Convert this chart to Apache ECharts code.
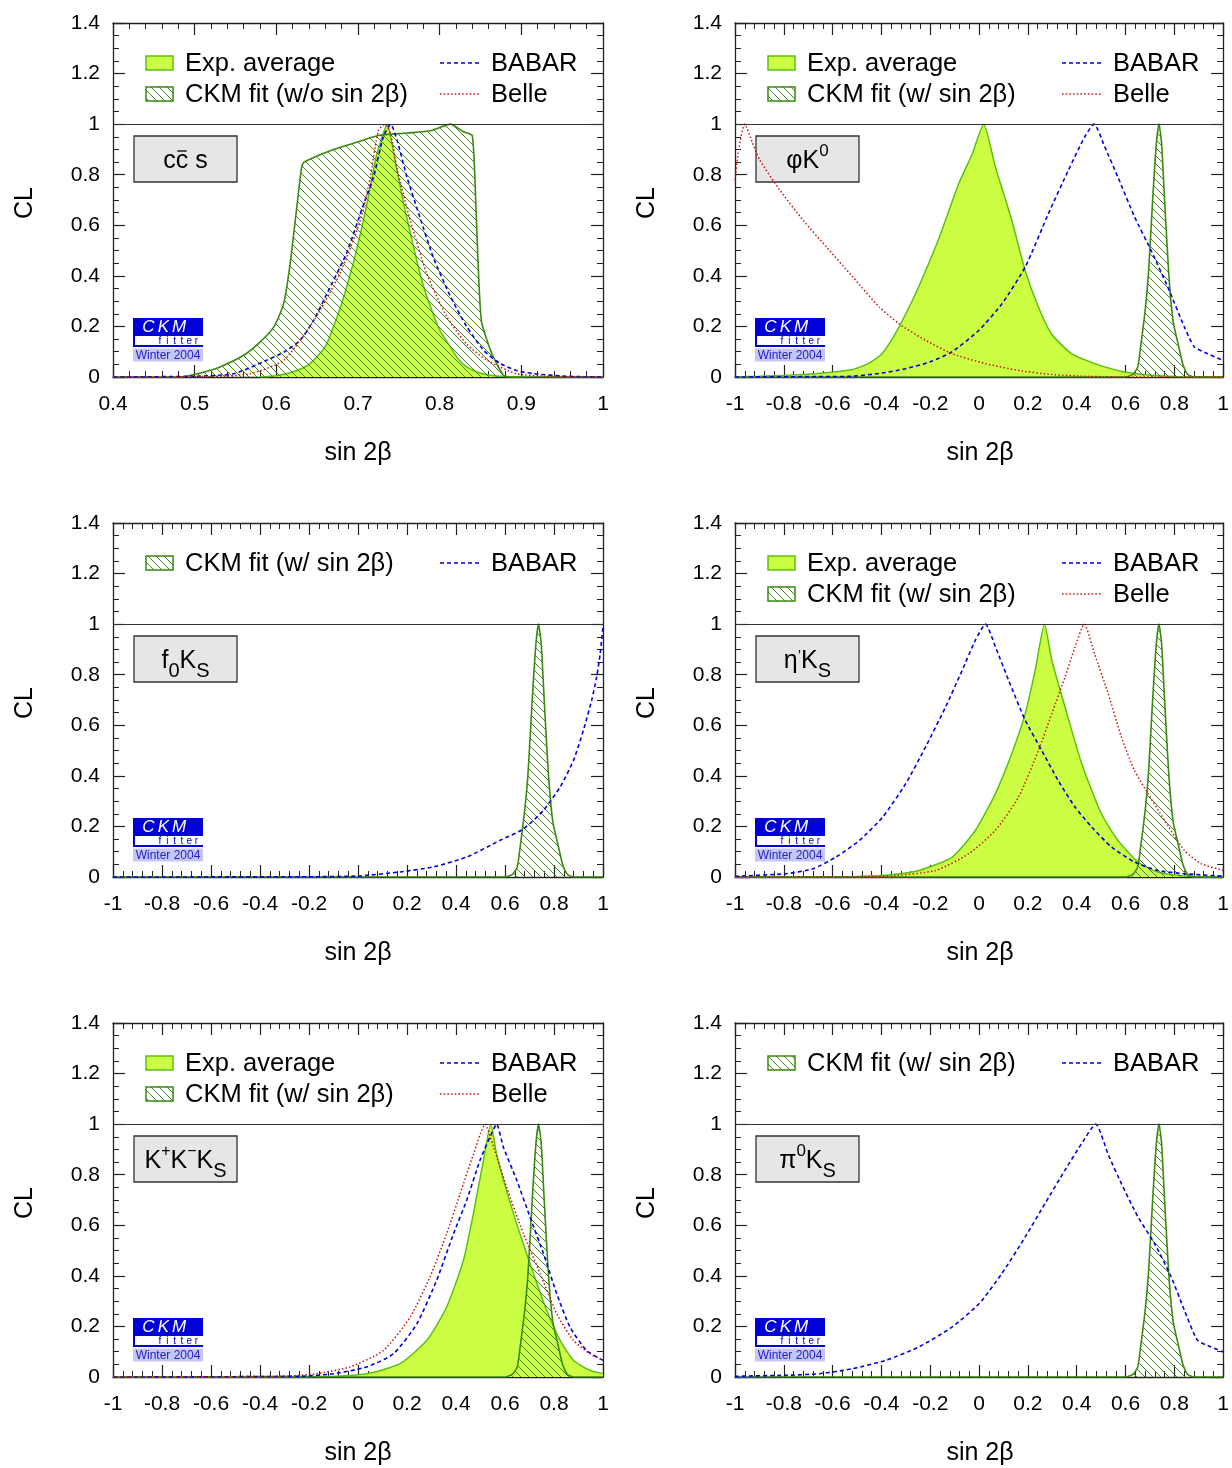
<!DOCTYPE html>
<html>
<head>
<meta charset="utf-8">
<script src="https://cdn.jsdelivr.net/npm/echarts@6/dist/echarts.min.js"></script>
<style>
html,body{margin:0;padding:0;background:#fff;}
#chart{width:1232px;height:1468px;}
</style>
</head>
<body>
<div id="chart"></div>
<script>
// ---------------- DATA ----------------
// x = sin 2beta, y = CL
const xTicksWide = [-1, -0.8, -0.6, -0.4, -0.2, 0, 0.2, 0.4, 0.6, 0.8, 1];
const xTicksCcs = [0.4, 0.5, 0.6, 0.7, 0.8, 0.9, 1];
const yTicks = [0, 0.2, 0.4, 0.6, 0.8, 1, 1.2, 1.4];

// Panel 1: c cbar s
const ccs_exp = [[0.58,0],[0.60,0.005],[0.62,0.02],[0.64,0.05],[0.66,0.12],[0.67,0.2],[0.68,0.29],[0.695,0.46],[0.711,0.685],[0.723,0.88],[0.736,1.0],[0.744,0.88],[0.756,0.685],[0.772,0.46],[0.782,0.34],[0.792,0.25],[0.80,0.185],[0.813,0.12],[0.823,0.07],[0.833,0.04],[0.85,0.015],[0.87,0.004],[0.90,0]];
const ccs_ckm = [[0.40,0],[0.482,0],[0.507,0.016],[0.531,0.04],[0.56,0.086],[0.58,0.138],[0.597,0.198],[0.609,0.29],[0.617,0.45],[0.625,0.67],[0.631,0.83],[0.634,0.85],[0.67,0.90],[0.70,0.93],[0.725,0.955],[0.76,0.965],[0.79,0.975],[0.813,1.0],[0.829,0.97],[0.840,0.955],[0.845,0.62],[0.851,0.224],[0.864,0.092],[0.878,0.007],[0.885,0],[1.0,0]];
const ccs_babar = [[0.40,0],[0.50,0.003],[0.548,0.013],[0.588,0.066],[0.61,0.1],[0.629,0.145],[0.645,0.22],[0.662,0.33],[0.686,0.49],[0.707,0.685],[0.719,0.79],[0.731,0.95],[0.74,1.0],[0.748,0.935],[0.76,0.79],[0.776,0.63],[0.792,0.475],[0.813,0.32],[0.833,0.2],[0.854,0.105],[0.874,0.053],[0.895,0.025],[0.915,0.013],[0.956,0.003],[1.0,0]];
const ccs_belle = [[0.40,0],[0.52,0.002],[0.568,0.013],[0.609,0.066],[0.646,0.224],[0.678,0.41],[0.703,0.62],[0.715,0.79],[0.725,0.975],[0.733,1.0],[0.74,0.96],[0.748,0.82],[0.764,0.62],[0.784,0.41],[0.809,0.237],[0.833,0.13],[0.858,0.066],[0.894,0.013],[0.93,0.003],[1.0,0]];

// CKM fit with sin 2beta (same in panels 2-6)
const ckm_with = [[-1,0],[0.60,0],[0.63,0.01],[0.65,0.04],[0.662,0.12],[0.68,0.26],[0.694,0.41],[0.711,0.70],[0.726,0.92],[0.737,1.0],[0.748,0.92],[0.76,0.70],[0.777,0.41],[0.795,0.22],[0.818,0.12],[0.835,0.05],[0.855,0.01],[0.88,0],[1,0]];

// Panel 2: phi K0
const phi_exp = [[-1,0],[-0.9,0.003],[-0.79,0.007],[-0.65,0.015],[-0.518,0.03],[-0.45,0.055],[-0.4,0.09],[-0.35,0.16],[-0.3,0.25],[-0.246,0.36],[-0.164,0.55],[-0.083,0.765],[-0.029,0.88],[0.019,1.0],[0.067,0.83],[0.134,0.62],[0.189,0.42],[0.243,0.277],[0.297,0.17],[0.379,0.092],[0.474,0.053],[0.596,0.02],[0.705,0.007],[0.8,0.002],[1,0]];
const phi_babar = [[-1,0],[-0.6,0.002],[-0.518,0.003],[-0.4,0.015],[-0.3,0.033],[-0.2,0.06],[-0.11,0.1],[0,0.185],[0.094,0.29],[0.189,0.435],[0.284,0.646],[0.366,0.818],[0.433,0.95],[0.471,1.0],[0.515,0.91],[0.569,0.79],[0.637,0.633],[0.705,0.5],[0.773,0.356],[0.841,0.198],[0.882,0.119],[0.936,0.092],[1.0,0.066]];
const phi_belle = [[-1,0.78],[-0.985,0.9],[-0.96,1.0],[-0.93,0.93],[-0.898,0.857],[-0.817,0.74],[-0.721,0.62],[-0.626,0.515],[-0.518,0.396],[-0.409,0.277],[-0.327,0.21],[-0.219,0.145],[-0.11,0.092],[0.026,0.053],[0.162,0.026],[0.297,0.01],[0.433,0.003],[0.6,0],[1,0]];

// Panel 3: f0 KS
const f0_babar = [[-1,0],[-0.2,0.001],[0,0.004],[0.172,0.02],[0.308,0.04],[0.444,0.079],[0.58,0.145],[0.675,0.19],[0.757,0.264],[0.825,0.356],[0.879,0.46],[0.92,0.58],[0.954,0.7],[0.974,0.79],[0.988,0.88],[1.0,0.99]];

// Panel 4: eta' KS
const eta_exp = [[-1,0],[-0.5,0.002],[-0.382,0.007],[-0.246,0.026],[-0.11,0.079],[-0.015,0.185],[0.067,0.33],[0.134,0.488],[0.189,0.646],[0.23,0.818],[0.268,1.0],[0.298,0.857],[0.352,0.673],[0.42,0.45],[0.501,0.25],[0.569,0.145],[0.651,0.059],[0.732,0.02],[0.841,0.004],[1.0,0]];
const eta_babar = [[-1,0.003],[-0.79,0.013],[-0.68,0.033],[-0.586,0.079],[-0.49,0.145],[-0.395,0.237],[-0.3,0.37],[-0.219,0.515],[-0.137,0.673],[-0.069,0.818],[-0.015,0.937],[0.026,1.0],[0.067,0.91],[0.121,0.778],[0.189,0.62],[0.257,0.5],[0.325,0.38],[0.393,0.277],[0.461,0.198],[0.542,0.119],[0.637,0.059],[0.732,0.026],[0.841,0.013],[1.0,0.003]];
const eta_belle = [[-1,0],[-0.382,0.003],[-0.178,0.026],[-0.042,0.092],[0.067,0.185],[0.162,0.317],[0.243,0.5],[0.298,0.646],[0.352,0.79],[0.393,0.91],[0.431,1.0],[0.474,0.88],[0.529,0.725],[0.583,0.554],[0.637,0.42],[0.692,0.33],[0.76,0.224],[0.841,0.105],[0.909,0.053],[1.0,0.026]];

// Panel 5: K+ K- KS
const kk_exp = [[-1,0],[-0.1,0.003],[0.036,0.013],[0.172,0.053],[0.281,0.145],[0.362,0.277],[0.43,0.46],[0.471,0.646],[0.512,0.857],[0.542,1.0],[0.566,0.88],[0.607,0.735],[0.661,0.567],[0.716,0.41],[0.77,0.264],[0.825,0.145],[0.879,0.066],[0.947,0.026],[1.0,0.013]];
const kk_babar = [[-1,0],[-0.236,0.003],[-0.1,0.013],[0.036,0.04],[0.145,0.092],[0.24,0.21],[0.32,0.38],[0.39,0.567],[0.444,0.7],[0.498,0.857],[0.539,0.95],[0.566,1.0],[0.593,0.91],[0.648,0.778],[0.702,0.633],[0.757,0.488],[0.811,0.33],[0.865,0.198],[0.933,0.105],[1.0,0.066]];
const kk_belle = [[-1,0],[-0.304,0.003],[-0.168,0.013],[-0.032,0.04],[0.104,0.105],[0.213,0.237],[0.294,0.396],[0.362,0.567],[0.417,0.725],[0.471,0.88],[0.519,1.0],[0.553,0.91],[0.607,0.75],[0.675,0.567],[0.743,0.41],[0.811,0.25],[0.879,0.145],[0.947,0.092],[1.0,0.066]];

// Panel 6: pi0 KS
const pi_babar = [[-1,0.003],[-0.79,0.007],[-0.654,0.013],[-0.518,0.033],[-0.382,0.066],[-0.246,0.119],[-0.11,0.198],[0,0.29],[0.094,0.41],[0.189,0.554],[0.27,0.686],[0.352,0.818],[0.42,0.923],[0.478,1.0],[0.529,0.88],[0.583,0.765],[0.651,0.633],[0.719,0.528],[0.787,0.396],[0.841,0.264],[0.895,0.145],[0.95,0.119],[1.0,0.099]];

// ---------------- STYLE / LAYOUT ----------------
const FONT = '"Liberation Sans", Arial, Helvetica, sans-serif';
const C_EXP_FILL = '#ccff44', C_EXP_LINE = '#5cc010';
const C_CKM = '#3a8a10';
const C_BABAR = '#0000e0', C_BELLE = '#cc1111';
const COLS = [113, 735], ROWS = [23, 523, 1023];
const GW = 490, GH = 354;

function makeHatch(){
  const c = document.createElement('canvas'); c.width = 8; c.height = 8;
  const g = c.getContext('2d');
  g.strokeStyle = C_CKM; g.lineWidth = 1;
  g.beginPath();
  g.moveTo(-2,-2); g.lineTo(10,10);
  g.moveTo(-2,6); g.lineTo(2,10);
  g.moveTo(6,-2); g.lineTo(10,2);
  g.stroke();
  return c;
}
const hatch = makeHatch();
const hatchFill = {image: hatch, repeat: 'repeat'};

const mctx = document.createElement('canvas').getContext('2d');
function tw(t, size){ mctx.font = size + 'px ' + FONT; return mctx.measureText(t).width; }

const panels = [
  {col:0,row:0, xr:[0.4,1,0.1], label:[['c',25,0],['c',25,0,'bar'],[' s',25,0]],
   legL:[['exp','Exp. average'],['ckm','CKM fit (w/o sin 2β)']], legR:[['babar','BABAR'],['belle','Belle']],
   s:{exp:ccs_exp, ckm:ccs_ckm, babar:ccs_babar, belle:ccs_belle}},
  {col:1,row:0, xr:[-1,1,0.2], label:[['φ',25,0],['K',25,0],['0',17,-12]],
   legL:[['exp','Exp. average'],['ckm','CKM fit (w/ sin 2β)']], legR:[['babar','BABAR'],['belle','Belle']],
   s:{exp:phi_exp, ckm:ckm_with, babar:phi_babar, belle:phi_belle}},
  {col:0,row:1, xr:[-1,1,0.2], label:[['f',25,0],['0',20,9],['K',25,0],['S',20,9]],
   legL:[['ckm','CKM fit (w/ sin 2β)']], legR:[['babar','BABAR']],
   s:{ckm:ckm_with, babar:f0_babar}},
  {col:1,row:1, xr:[-1,1,0.2], label:[['η',25,0],['\u2019',15,-8],['K',25,0],['S',20,9]],
   legL:[['exp','Exp. average'],['ckm','CKM fit (w/ sin 2β)']], legR:[['babar','BABAR'],['belle','Belle']],
   s:{exp:eta_exp, ckm:ckm_with, babar:eta_babar, belle:eta_belle}},
  {col:0,row:2, xr:[-1,1,0.2], label:[['K',25,0],['+',16,-12],['K',25,0],['\u2212',16,-12],['K',25,0],['S',20,9]],
   legL:[['exp','Exp. average'],['ckm','CKM fit (w/ sin 2β)']], legR:[['babar','BABAR'],['belle','Belle']],
   s:{exp:kk_exp, ckm:ckm_with, babar:kk_babar, belle:kk_belle}},
  {col:1,row:2, xr:[-1,1,0.2], label:[['π',25,0],['0',17,-12],['K',25,0],['S',20,9]],
   legL:[['ckm','CKM fit (w/ sin 2β)']], legR:[['babar','BABAR']],
   s:{ckm:ckm_with, babar:pi_babar}}
];

const fmt = v => { const r = Math.round(v*10)/10; return String(r === 0 ? 0 : r); };

const grids = [], xAxes = [], yAxes = [], series = [], gfx = [];
const axisLine = {show:true, onZero:false, lineStyle:{color:'#222', width:1.3}};
const labelStyle = {color:'#000', fontSize:21, fontFamily:FONT};
const LEG_FONT = '25.5px ' + FONT;

panels.forEach((p, i) => {
  const L = COLS[p.col], T = ROWS[p.row];
  grids.push({left:L, top:T, width:GW, height:GH, show:false});
  const xBase = {type:'value', gridIndex:i, min:p.xr[0], max:p.xr[1], interval:p.xr[2],
    axisLine, splitLine:{show:false},
    axisTick:{show:true, inside:true, length:12, lineStyle:{color:'#222', width:1.2}},
    minorTick:{show:true, splitNumber:5, length:6, lineStyle:{color:'#222', width:1}}};
  xAxes.push(Object.assign({}, xBase, {position:'bottom',
    axisLabel:Object.assign({show:true, margin:17, formatter:fmt, showMinLabel:true, showMaxLabel:true}, labelStyle)}));
  xAxes.push(Object.assign({}, xBase, {position:'top', axisLabel:{show:false}}));
  const yBase = {type:'value', gridIndex:i, min:0, max:1.4, interval:0.2,
    axisLine, splitLine:{show:false},
    axisTick:{show:true, inside:true, length:12, lineStyle:{color:'#222', width:1.2}},
    minorTick:{show:true, splitNumber:4, length:6, lineStyle:{color:'#222', width:1}}};
  yAxes.push(Object.assign({}, yBase, {position:'left',
    axisLabel:Object.assign({show:true, margin:13, formatter:fmt}, labelStyle)}));
  yAxes.push(Object.assign({}, yBase, {position:'right', axisLabel:{show:false}}));

  const xi = 2*i, yi = 2*i;
  const common = {type:'line', xAxisIndex:xi, yAxisIndex:yi, showSymbol:false, symbol:'none',
    smooth:0.2, silent:true, animation:false, clip:true};
  let first = true;
  const ml = () => {
    if (!first) return undefined; first = false;
    return {silent:true, symbol:'none', label:{show:false}, animation:false,
      lineStyle:{color:'#333', width:1.2, type:'solid'}, data:[{yAxis:1}]};
  };
  if (p.s.exp) series.push(Object.assign({}, common, {name:'Exp. average', data:p.s.exp, z:2,
    lineStyle:{color:C_EXP_LINE, width:1.5}, areaStyle:{color:C_EXP_FILL, opacity:1}, markLine:ml()}));
  if (p.s.ckm) series.push(Object.assign({}, common, {name:'CKM fit', data:p.s.ckm, z:3,
    lineStyle:{color:C_CKM, width:1.6}, areaStyle:{color:hatchFill, opacity:1}, markLine:ml()}));
  if (p.s.babar) series.push(Object.assign({}, common, {name:'BABAR', data:p.s.babar, z:4,
    lineStyle:{color:C_BABAR, width:1.6, type:[4,3]}, markLine:ml()}));
  if (p.s.belle) series.push(Object.assign({}, common, {name:'Belle', data:p.s.belle, z:4,
    lineStyle:{color:C_BELLE, width:1.5, type:[1.5,2.2]}, markLine:ml()}));

  // axis titles
  gfx.push({type:'text', x:L+245, y:T+430, silent:true,
    style:{text:'sin 2β', fill:'#000', font:'25px '+FONT, align:'center', verticalAlign:'middle'}});
  gfx.push({type:'text', x:L-88, y:T+180, rotation:Math.PI/2, silent:true,
    style:{text:'CL', fill:'#000', font:'25px '+FONT, align:'center', verticalAlign:'middle'}});

  // legend
  const rowY = [T+40, T+71];
  p.legL.forEach((e, k) => {
    const y = rowY[k];
    if (e[0] === 'exp') gfx.push({type:'rect', silent:true, shape:{x:L+33, y:y-7, width:27, height:14},
      style:{fill:C_EXP_FILL, stroke:C_EXP_LINE, lineWidth:1.5}});
    else gfx.push({type:'rect', silent:true, shape:{x:L+33, y:y-7, width:27, height:14},
      style:{fill:hatchFill, stroke:C_CKM, lineWidth:1.5}});
    gfx.push({type:'text', x:L+72, y:y+0.5, silent:true,
      style:{text:e[1], fill:'#000', font:LEG_FONT, align:'left', verticalAlign:'middle'}});
  });
  p.legR.forEach((e, k) => {
    const y = rowY[k];
    const isB = e[0] === 'babar';
    gfx.push({type:'line', silent:true, shape:{x1:L+327, y1:y, x2:L+366, y2:y},
      style:{stroke:isB?C_BABAR:C_BELLE, lineWidth:isB?1.6:1.5, lineDash:isB?[4,3]:[1.5,2.2]}});
    gfx.push({type:'text', x:L+378, y:y+0.5, silent:true,
      style:{text:e[1], fill:'#000', font:LEG_FONT, align:'left', verticalAlign:'middle'}});
  });

  // label box
  const bx = L+21, by = T+113;
  gfx.push({type:'rect', silent:true, shape:{x:bx, y:by, width:103, height:46},
    style:{fill:'#e6e6e6', stroke:'#333', lineWidth:1.3}});
  let total = 0; p.label.forEach(pc => total += tw(pc[0], pc[1]));
  let cx = bx + 51.5 - total/2;
  const base = T + 146;
  p.label.forEach(pc => {
    const w = tw(pc[0], pc[1]);
    const yb = base + pc[2];
    gfx.push({type:'text', x:cx, y:yb - 0.33*pc[1], silent:true,
      style:{text:pc[0], fill:'#000', font:pc[1]+'px '+FONT, align:'left', verticalAlign:'middle'}});
    if (pc[3] === 'bar') gfx.push({type:'line', silent:true,
      shape:{x1:cx+1.5, y1:base-18, x2:cx+w-1.5, y2:base-18}, style:{stroke:'#000', lineWidth:1.3}});
    cx += w;
  });

  // CKMfitter logo
  const lx = L+20, ly = T+295;
  gfx.push({type:'rect', silent:true, shape:{x:lx, y:ly, width:70, height:29}, style:{fill:'#0000d8'}});
  gfx.push({type:'rect', silent:true, shape:{x:lx+2, y:ly+18, width:68, height:9}, style:{fill:'#ffffff'}});
  [['C',15.5],['K',30.5],['M',46]].forEach(cp => {
    gfx.push({type:'text', x:lx+cp[1], y:ly+9.5, silent:true,
      style:{text:cp[0], fill:'#fff', font:'italic 17px '+FONT, align:'center', verticalAlign:'middle'}});
  });
  'fitter'.split('').forEach((ch, k) => {
    gfx.push({type:'text', x:lx+27 + k*7.3, y:ly+22.8, silent:true,
      style:{text:ch, fill:'#0000d8', font:'10px '+FONT, align:'center', verticalAlign:'middle'}});
  });
  gfx.push({type:'rect', silent:true, shape:{x:lx, y:ly+30.5, width:70, height:13}, style:{fill:'#c6c6f6'}});
  gfx.push({type:'text', x:lx+35, y:ly+37.2, silent:true,
    style:{text:'Winter 2004', fill:'#2222cc', font:'12px '+FONT, align:'center', verticalAlign:'middle'}});
});

const chart = echarts.init(document.getElementById('chart'), null, {renderer:'canvas', width:1232, height:1468});
chart.setOption({
  animation:false,
  backgroundColor:'#ffffff',
  grid:grids, xAxis:xAxes, yAxis:yAxes, series:series,
  graphic:{elements:gfx}
});
</script>
</body>
</html>
